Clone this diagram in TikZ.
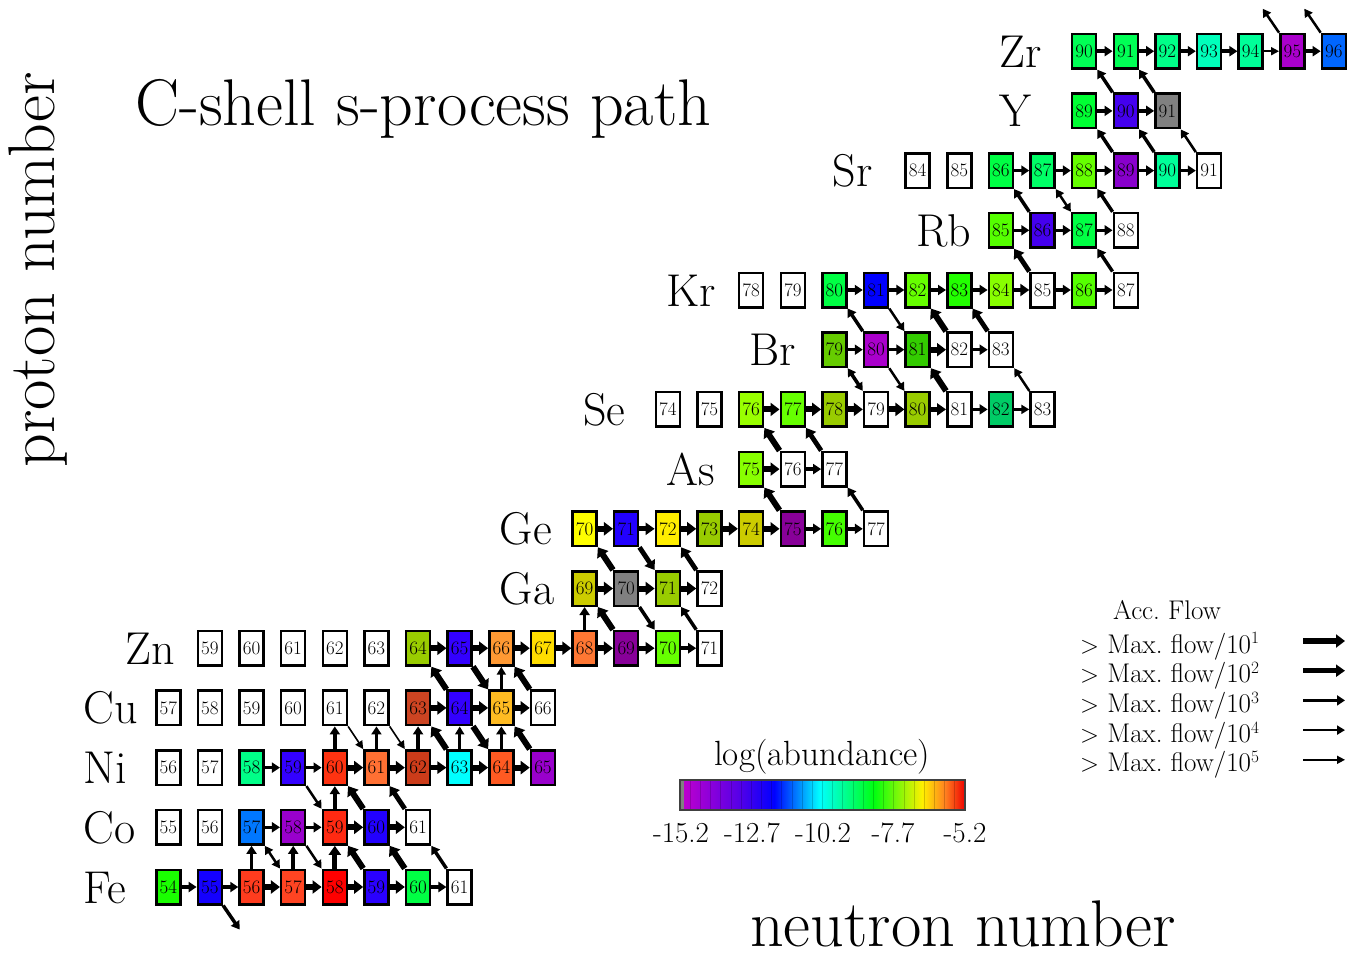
\documentclass[tikz,border=0pt]{standalone}
\usetikzlibrary{arrows.meta}
\newcommand{\nucl}[4]{%
  \definecolor{tmpfill}{HTML}{#4}%
  \pgfmathsetmacro\nx{168.3+(#3-#2-28)*41.63}%
  \pgfmathsetmacro\ny{887-(#2-26)*59.7}%
  \node[nucbox,fill=tmpfill] (#1#3) at (\nx,\ny) {#3};}
\newcommand{\elab}[3]{%
  \pgfmathsetmacro\lx{168.3+(#3-28)*41.63-85}%
  \pgfmathsetmacro\ly{887-(#2-26)*59.7+16}%
  \node[elem] (lab#1) at (\lx,\ly) {#1};}
\newcommand{\ncap}[3]{\draw[#1] (#2.east) -- (#3.west);}
\newcommand{\bmin}[3]{\draw[#1] (#2.north west) -- (#3.south east);}
\newcommand{\ecap}[3]{\draw[#1] (#2.south east) -- (#3.north west);}
\newcommand{\pcap}[3]{\draw[#1] (#2.north) -- (#3.south);}
\definecolor{cb0}{HTML}{C400CC}
\definecolor{cb1}{HTML}{5A00E6}
\definecolor{cb2}{HTML}{0000FF}
\definecolor{cb3}{HTML}{00FFFF}
\definecolor{cb4}{HTML}{00FF10}
\definecolor{cb5}{HTML}{FFF000}
\definecolor{cb6}{HTML}{FF8020}
\definecolor{cb7}{HTML}{EE0000}
\pgfdeclarehorizontalshading{abund}{100bp}{color(0bp)=(cb0); color(25bp)=(cb0); color(35bp)=(cb1); color(41.5bp)=(cb2); color(49.5bp)=(cb3); color(59bp)=(cb4); color(67.5bp)=(cb5); color(71.5bp)=(cb6); color(75bp)=(cb7); color(100bp)=(cb7)}
\tikzset{
  nucbox/.style={draw, line width=2.5pt, minimum width=24pt, minimum height=34.5pt, inner sep=0pt, font=\fontsize{19}{19}\selectfont},
  elem/.style={anchor=base west, inner sep=0pt, font=\fontsize{46}{46}\selectfont},
  fa/.style={line width=6pt, arrows={-Triangle[length=9pt,width=13pt]}},
  fb/.style={line width=4.8pt, arrows={-Triangle[length=9pt,width=12pt]}},
  fc/.style={line width=3.5pt, arrows={-Triangle[length=8pt,width=10pt]}},
  fd/.style={line width=2.5pt, arrows={-Triangle[length=8pt,width=9pt]}},
  fe/.style={line width=1.6pt, arrows={-Triangle[length=8pt,width=8pt]}},
  dbl/.style={arrows={Triangle[length=8pt,width=9pt]-Triangle[length=8pt,width=9pt]}},
  legtxt/.style={anchor=base west, inner sep=0pt, font=\fontsize{27}{27}\selectfont},
  big/.style={inner sep=0pt, font=\fontsize{66}{66}\selectfont},
  tick/.style={anchor=base, inner sep=0pt, font=\fontsize{29}{29}\selectfont}
}
\begin{document}
\begin{tikzpicture}[x=1pt,y=-1pt]
\useasboundingbox (0,0) rectangle (1349,955);
% titles
\node[big,anchor=base west] (title) at (135,125) {C-shell s-process path};
\node[big,rotate=90] (ylab) at (38,270) {proton number};
\node[big,anchor=base west] (xlab) at (750,946) {neutron number};
% element labels
\elab{Fe}{26}{28}\elab{Co}{27}{28}\elab{Ni}{28}{28}\elab{Cu}{29}{28}
\elab{Zn}{30}{29}\elab{Ga}{31}{38}\elab{Ge}{32}{38}\elab{As}{33}{42}
\elab{Se}{34}{40}\elab{Br}{35}{44}\elab{Kr}{36}{42}\elab{Rb}{37}{48}
\elab{Sr}{38}{46}\elab{Y}{39}{50}\elab{Zr}{40}{50}
% Fe
\nucl{Fe}{26}{54}{1AFF00}\nucl{Fe}{26}{55}{1400FF}\nucl{Fe}{26}{56}{FF3C1E}\nucl{Fe}{26}{57}{FF4422}
\nucl{Fe}{26}{58}{FF0000}\nucl{Fe}{26}{59}{2A00FF}\nucl{Fe}{26}{60}{00FF44}\nucl{Fe}{26}{61}{FFFFFF}
% Co
\nucl{Co}{27}{55}{FFFFFF}\nucl{Co}{27}{56}{FFFFFF}\nucl{Co}{27}{57}{0077FF}\nucl{Co}{27}{58}{9900CC}
\nucl{Co}{27}{59}{FF2A12}\nucl{Co}{27}{60}{2200FF}\nucl{Co}{27}{61}{FFFFFF}
% Ni
\nucl{Ni}{28}{56}{FFFFFF}\nucl{Ni}{28}{57}{FFFFFF}\nucl{Ni}{28}{58}{00FF88}\nucl{Ni}{28}{59}{3300FF}
\nucl{Ni}{28}{60}{FF3311}\nucl{Ni}{28}{61}{FF7033}\nucl{Ni}{28}{62}{CC3C1A}\nucl{Ni}{28}{63}{00FFFF}
\nucl{Ni}{28}{64}{FF5A22}\nucl{Ni}{28}{65}{9900CC}
% Cu
\nucl{Cu}{29}{57}{FFFFFF}\nucl{Cu}{29}{58}{FFFFFF}\nucl{Cu}{29}{59}{FFFFFF}\nucl{Cu}{29}{60}{FFFFFF}
\nucl{Cu}{29}{61}{FFFFFF}\nucl{Cu}{29}{62}{FFFFFF}\nucl{Cu}{29}{63}{CC4422}\nucl{Cu}{29}{64}{3300FF}
\nucl{Cu}{29}{65}{FFBB22}\nucl{Cu}{29}{66}{FFFFFF}
% Zn
\nucl{Zn}{30}{59}{FFFFFF}\nucl{Zn}{30}{60}{FFFFFF}\nucl{Zn}{30}{61}{FFFFFF}\nucl{Zn}{30}{62}{FFFFFF}
\nucl{Zn}{30}{63}{FFFFFF}\nucl{Zn}{30}{64}{99CC00}\nucl{Zn}{30}{65}{3300FF}\nucl{Zn}{30}{66}{FF9933}
\nucl{Zn}{30}{67}{FFDD00}\nucl{Zn}{30}{68}{FF7733}\nucl{Zn}{30}{69}{880099}\nucl{Zn}{30}{70}{66FF00}
\nucl{Zn}{30}{71}{FFFFFF}
% Ga
\nucl{Ga}{31}{69}{CCCC00}\nucl{Ga}{31}{70}{808080}\nucl{Ga}{31}{71}{99CC00}\nucl{Ga}{31}{72}{FFFFFF}
% Ge
\nucl{Ge}{32}{70}{FFFF00}\nucl{Ge}{32}{71}{2200FF}\nucl{Ge}{32}{72}{FFEE00}\nucl{Ge}{32}{73}{99CC00}
\nucl{Ge}{32}{74}{CCCC00}\nucl{Ge}{32}{75}{880099}\nucl{Ge}{32}{76}{44FF00}\nucl{Ge}{32}{77}{FFFFFF}
% As
\nucl{As}{33}{75}{88FF00}\nucl{As}{33}{76}{FFFFFF}\nucl{As}{33}{77}{FFFFFF}
% Se
\nucl{Se}{34}{74}{FFFFFF}\nucl{Se}{34}{75}{FFFFFF}\nucl{Se}{34}{76}{99FF00}\nucl{Se}{34}{77}{66FF00}
\nucl{Se}{34}{78}{99CC00}\nucl{Se}{34}{79}{FFFFFF}\nucl{Se}{34}{80}{99CC00}\nucl{Se}{34}{81}{FFFFFF}
\nucl{Se}{34}{82}{00CC66}\nucl{Se}{34}{83}{FFFFFF}
% Br
\nucl{Br}{35}{79}{66CC00}\nucl{Br}{35}{80}{AA00CC}\nucl{Br}{35}{81}{33CC00}\nucl{Br}{35}{82}{FFFFFF}
\nucl{Br}{35}{83}{FFFFFF}
% Kr
\nucl{Kr}{36}{78}{FFFFFF}\nucl{Kr}{36}{79}{FFFFFF}\nucl{Kr}{36}{80}{00FF44}\nucl{Kr}{36}{81}{0000FF}
\nucl{Kr}{36}{82}{66FF00}\nucl{Kr}{36}{83}{22FF00}\nucl{Kr}{36}{84}{88FF00}\nucl{Kr}{36}{85}{FFFFFF}
\nucl{Kr}{36}{86}{55FF00}\nucl{Kr}{36}{87}{FFFFFF}
% Rb
\nucl{Rb}{37}{85}{55FF00}\nucl{Rb}{37}{86}{4400EE}\nucl{Rb}{37}{87}{00FF44}\nucl{Rb}{37}{88}{FFFFFF}
% Sr
\nucl{Sr}{38}{84}{FFFFFF}\nucl{Sr}{38}{85}{FFFFFF}\nucl{Sr}{38}{86}{00FF44}\nucl{Sr}{38}{87}{00FF66}
\nucl{Sr}{38}{88}{66FF00}\nucl{Sr}{38}{89}{8800CC}\nucl{Sr}{38}{90}{00FF99}\nucl{Sr}{38}{91}{FFFFFF}
% Y
\nucl{Y}{39}{89}{00FF33}\nucl{Y}{39}{90}{4400EE}\nucl{Y}{39}{91}{808080}
% Zr
\nucl{Zr}{40}{90}{00FF55}\nucl{Zr}{40}{91}{00FF55}\nucl{Zr}{40}{92}{00FF88}\nucl{Zr}{40}{93}{00FFBB}
\nucl{Zr}{40}{94}{00FF99}\nucl{Zr}{40}{95}{AA00CC}\nucl{Zr}{40}{96}{0066FF}
% free ends
\coordinate (Mn55) at (239.6,929.5);
\coordinate (Nb95) at (1262.7,8.75);
\coordinate (Nb96) at (1304.3,8.75);
% ---- flows
% Fe
\ncap{fc}{Fe54}{Fe55}\ncap{fc}{Fe55}{Fe56}\ncap{fa}{Fe56}{Fe57}\ncap{fa}{Fe57}{Fe58}
\ncap{fa}{Fe58}{Fe59}\ncap{fa}{Fe59}{Fe60}\ncap{fc}{Fe60}{Fe61}
\draw[fc] (Fe55.south east) -- (Mn55);
\pcap{fc}{Fe56}{Co57}\pcap{fc}{Fe57}{Co58}\pcap{fb}{Fe58}{Co59}
\draw[fd,dbl] (Co57.south east) -- (Fe57.north west);
\ecap{fd}{Co58}{Fe58}
\bmin{fa}{Fe59}{Co59}\bmin{fa}{Fe60}{Co60}\bmin{fc}{Fe61}{Co61}
% Co
\ncap{fc}{Co57}{Co58}\ncap{fc}{Co58}{Co59}\ncap{fa}{Co59}{Co60}\ncap{fa}{Co60}{Co61}
\pcap{fc}{Co59}{Ni60}\bmin{fa}{Co60}{Ni60}\bmin{fb}{Co61}{Ni61}
\ecap{fd}{Ni59}{Co59}
% Ni
\ncap{fc}{Ni58}{Ni59}\ncap{fc}{Ni59}{Ni60}\ncap{fa}{Ni60}{Ni61}\ncap{fa}{Ni61}{Ni62}
\ncap{fb}{Ni62}{Ni63}\ncap{fa}{Ni63}{Ni64}\ncap{fa}{Ni64}{Ni65}
\pcap{fc}{Ni60}{Cu61}\ecap{fe}{Cu61}{Ni61}\pcap{fc}{Ni61}{Cu62}\ecap{fe}{Cu62}{Ni62}
\pcap{fc}{Ni62}{Cu63}\bmin{fa}{Ni63}{Cu63}\pcap{fd}{Ni63}{Cu64}\ecap{fa}{Cu64}{Ni64}
\pcap{fc}{Ni64}{Cu65}\bmin{fa}{Ni65}{Cu65}
% Cu
\ncap{fa}{Cu63}{Cu64}\ncap{fa}{Cu64}{Cu65}\ncap{fa}{Cu65}{Cu66}
\bmin{fa}{Cu64}{Zn64}\ecap{fa}{Zn65}{Cu65}\pcap{fd}{Cu65}{Zn66}\bmin{fa}{Cu66}{Zn66}
% Zn
\ncap{fa}{Zn64}{Zn65}\ncap{fa}{Zn65}{Zn66}\ncap{fa}{Zn66}{Zn67}\ncap{fa}{Zn67}{Zn68}
\ncap{fa}{Zn68}{Zn69}\ncap{fb}{Zn69}{Zn70}\ncap{fc}{Zn70}{Zn71}
\pcap{fc}{Zn68}{Ga69}\bmin{fa}{Zn69}{Ga69}\ecap{fc}{Ga70}{Zn70}\bmin{fc}{Zn71}{Ga71}
% Ga
\ncap{fa}{Ga69}{Ga70}\ncap{fa}{Ga70}{Ga71}\ncap{fa}{Ga71}{Ga72}
\bmin{fa}{Ga70}{Ge70}\ecap{fb}{Ge71}{Ga71}\bmin{fb}{Ga72}{Ge72}
% Ge
\ncap{fa}{Ge70}{Ge71}\ncap{fb}{Ge71}{Ge72}\ncap{fa}{Ge72}{Ge73}\ncap{fa}{Ge73}{Ge74}
\ncap{fa}{Ge74}{Ge75}\ncap{fc}{Ge75}{Ge76}\ncap{fc}{Ge76}{Ge77}
\bmin{fa}{Ge75}{As75}\bmin{fc}{Ge77}{As77}
% As
\ncap{fa}{As75}{As76}\ncap{fc}{As76}{As77}
\bmin{fa}{As76}{Se76}\bmin{fb}{As77}{Se77}
% Se
\ncap{fa}{Se76}{Se77}\ncap{fa}{Se77}{Se78}\ncap{fa}{Se78}{Se79}\ncap{fa}{Se79}{Se80}
\ncap{fb}{Se80}{Se81}\ncap{fc}{Se81}{Se82}\ncap{fd}{Se82}{Se83}
\draw[fc,dbl] (Br79.south east) -- (Se79.north west);
\ecap{fd}{Br80}{Se80}\bmin{fa}{Se81}{Br81}\bmin{fd}{Se83}{Br83}
% Br
\ncap{fc}{Br79}{Br80}\ncap{fc}{Br80}{Br81}\ncap{fa}{Br81}{Br82}\ncap{fc}{Br82}{Br83}
\bmin{fc}{Br80}{Kr80}\ecap{fd}{Kr81}{Br81}\bmin{fa}{Br82}{Kr82}\bmin{fb}{Br83}{Kr83}
% Kr
\ncap{fc}{Kr80}{Kr81}\ncap{fc}{Kr81}{Kr82}\ncap{fc}{Kr82}{Kr83}\ncap{fc}{Kr83}{Kr84}
\ncap{fb}{Kr84}{Kr85}\ncap{fc}{Kr85}{Kr86}\ncap{fc}{Kr86}{Kr87}
\bmin{fb}{Kr85}{Rb85}\bmin{fc}{Kr87}{Rb87}
% Rb
\ncap{fc}{Rb85}{Rb86}\ncap{fc}{Rb86}{Rb87}\ncap{fc}{Rb87}{Rb88}
\bmin{fc}{Rb86}{Sr86}\draw[fd,dbl] (Sr87.south east) -- (Rb87.north west);
\bmin{fc}{Rb88}{Sr88}
% Sr
\ncap{fc}{Sr86}{Sr87}\ncap{fc}{Sr87}{Sr88}\ncap{fc}{Sr88}{Sr89}\ncap{fc}{Sr89}{Sr90}\ncap{fc}{Sr90}{Sr91}
\bmin{fc}{Sr89}{Y89}\bmin{fc}{Sr90}{Y90}\bmin{fd}{Sr91}{Y91}
% Y
\ncap{fc}{Y89}{Y90}\ncap{fc}{Y90}{Y91}
\bmin{fc}{Y90}{Zr90}\bmin{fc}{Y91}{Zr91}
% Zr
\ncap{fc}{Zr90}{Zr91}\ncap{fc}{Zr91}{Zr92}\ncap{fc}{Zr92}{Zr93}\ncap{fc}{Zr93}{Zr94}
\ncap{fe}{Zr94}{Zr95}\ncap{fc}{Zr95}{Zr96}
\draw[fd] (Zr95.north west) -- (Nb95);
\draw[fd] (Zr96.north west) -- (Nb96);
% ---- colour bar
\node[anchor=base, inner sep=0pt, font=\fontsize{35}{35}\selectfont] (cblab) at (822,765) {log(abundance)};
\shade[shading=abund] (680,780) rectangle (965,810);
\fill[gray] (680,780) rectangle (684,810);
\foreach \i in {1,...,27} \draw[black,opacity=0.18,line width=0.8pt] ({680+\i*285/28},780) -- ++(0,30);
\draw[line width=1.2pt, black!75] (680,780) rectangle (965,810);
\node[tick] (t1) at (681,842) {-15.2};
\node[tick] (t2) at (752,842) {-12.7};
\node[tick] (t3) at (823,842) {-10.2};
\node[tick] (t4) at (893,842) {-7.7};
\node[tick] (t5) at (965,842) {-5.2};
% ---- legend
\node[legtxt] (acc) at (1113,619) {Acc.\ Flow};
\node[legtxt] (lg1) at (1080,653.0) {$>$ Max.\ flow/10$^{1}$};
\node[legtxt] (lg2) at (1080,682.7) {$>$ Max.\ flow/10$^{2}$};
\node[legtxt] (lg3) at (1080,712.4) {$>$ Max.\ flow/10$^{3}$};
\node[legtxt] (lg4) at (1080,742.1) {$>$ Max.\ flow/10$^{4}$};
\node[legtxt] (lg5) at (1080,771.8) {$>$ Max.\ flow/10$^{5}$};
\coordinate (a1s) at (1303,641); \coordinate (a1e) at (1345,641);
\coordinate (a2s) at (1303,670.7); \coordinate (a2e) at (1345,670.7);
\coordinate (a3s) at (1303,700.4); \coordinate (a3e) at (1345,700.4);
\coordinate (a4s) at (1303,730.1); \coordinate (a4e) at (1345,730.1);
\coordinate (a5s) at (1303,759.8); \coordinate (a5e) at (1345,759.8);
\draw[fa] (a1s) -- (a1e);
\draw[fb] (a2s) -- (a2e);
\draw[fc] (a3s) -- (a3e);
\draw[fd] (a4s) -- (a4e);
\draw[fe] (a5s) -- (a5e);
\end{tikzpicture}
\end{document}
